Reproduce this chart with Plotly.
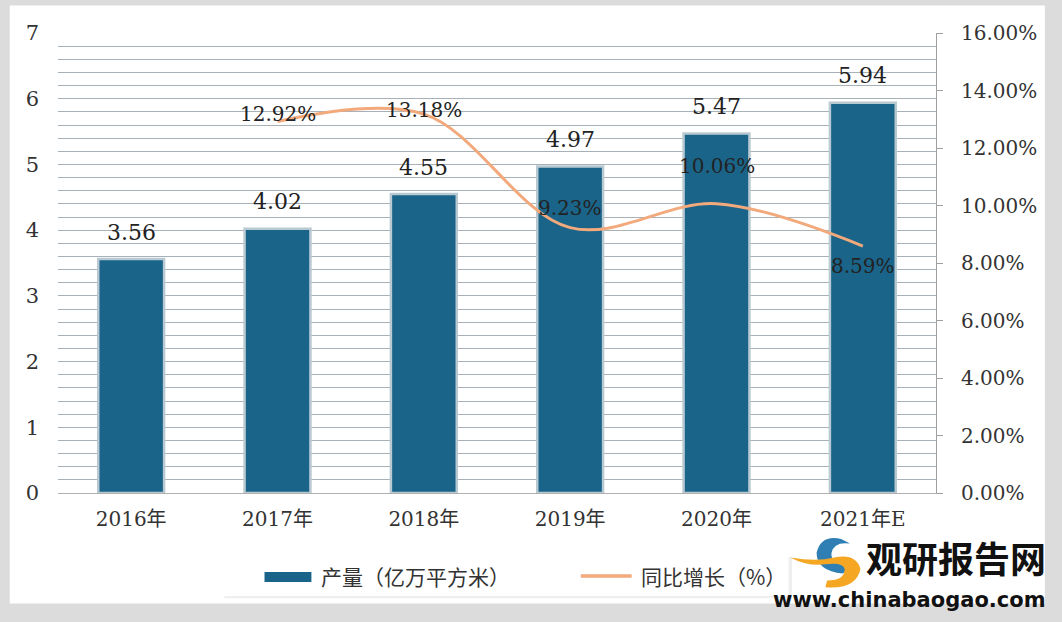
import plotly.graph_objects as go

years = ["2016年", "2017年", "2018年", "2019年", "2020年", "2021年E"]
output = [3.56, 4.02, 4.55, 4.97, 5.47, 5.94]
growth_years = ["2017年", "2018年", "2019年", "2020年", "2021年E"]
growth = [12.92, 13.18, 9.23, 10.06, 8.59]
growth_label_shift = [8, 4, 20, 38, -20]

bar_name = "产量（亿万平方米）"
line_name = "同比增长（%）"

serif = "DejaVu Serif, Liberation Serif, Noto Sans CJK SC, serif"
cjk = "Noto Sans CJK SC, sans-serif"
bar_color = "#1a6489"
line_color = "#f2a97c"

fig = go.Figure()
fig.add_trace(go.Bar(
    x=years, y=output, name=bar_name,
    marker=dict(color=bar_color, line=dict(color="#b9c9d2", width=2.5)),
    width=0.45, yaxis="y", showlegend=False,
))
fig.add_trace(go.Scatter(
    x=growth_years, y=growth, name=line_name, mode="lines",
    line=dict(color=line_color, width=3, shape="spline", smoothing=1.0),
    yaxis="y2", showlegend=False,
))

annotations = []
for x, v in zip(years, output):
    annotations.append(dict(x=x, y=v, xref="x", yref="y", text=f"{v:.2f}",
                            showarrow=False, yshift=27,
                            font=dict(family=serif, size=22, color="#222")))
for x, v, s in zip(growth_years, growth, growth_label_shift):
    annotations.append(dict(x=x, y=v, xref="x", yref="y2", text=f"{v:.2f}%",
                            showarrow=False, yshift=s,
                            font=dict(family=serif, size=20, color="#222")))
# custom legend texts
annotations.append(dict(x=0.2977, y=-0.1804, xref="paper", yref="paper", xanchor="left", yanchor="middle",
                        text=bar_name, showarrow=False, font=dict(family=cjk, size=21, color="#333")))
annotations.append(dict(x=0.6614, y=-0.1804, xref="paper", yref="paper", xanchor="left", yanchor="middle",
                        text=line_name, showarrow=False, font=dict(family=cjk, size=21, color="#333")))
# watermark
annotations.append(dict(x=1.127, y=-0.139, xref="paper", yref="paper", xanchor="right", yanchor="middle",
                        text="<b>观研报告网</b>", showarrow=False,
                        font=dict(family=cjk, size=36, color="#111")))
annotations.append(dict(x=1.127, y=-0.2326, xref="paper", yref="paper", xanchor="right", yanchor="middle",
                        text="<b>www.chinabaogao.com</b>", showarrow=False,
                        font=dict(family="DejaVu Sans, sans-serif", size=21, color="#111")))

dx = 0.034
shapes = [
    # white card
    dict(type="rect", xref="paper", yref="paper", x0=-0.055, x1=1.124, y0=-0.24, y1=1.06,
         fillcolor="white", line=dict(width=0), layer="below"),
    # legend box with soft shadow
    dict(type="rect", xref="paper", yref="paper", x0=0.1895, x1=0.836, y0=-0.229, y1=-0.139,
         fillcolor="#efefef", line=dict(width=0), layer="below"),
    dict(type="rect", xref="paper", yref="paper", x0=0.1875, x1=0.832, y0=-0.224, y1=-0.137,
         fillcolor="white", line=dict(width=0), layer="below"),
    # legend symbols
    dict(type="rect", xref="paper", yref="paper", x0=0.2352, x1=0.2886, y0=-0.1935, y1=-0.1717,
         fillcolor=bar_color, line=dict(width=0)),
    dict(type="line", xref="paper", yref="paper", x0=0.5955, x1=0.6534, y0=-0.1804, y1=-0.1804,
         line=dict(color=line_color, width=3.5)),
    # logo swirls
    dict(type="path", xref="paper", yref="paper",
         path=f"M {0.858+dx},-0.10 Q {0.835+dx},-0.09 {0.83+dx},-0.13 Q {0.83+dx},-0.17 {0.86+dx},-0.175 L {0.868+dx},-0.16 Q {0.845+dx},-0.155 {0.847+dx},-0.13 Q {0.85+dx},-0.105 {0.868+dx},-0.11 Z",
         fillcolor="#2f7fb5", line=dict(width=0)),
    dict(type="path", xref="paper", yref="paper",
         path=f"M {0.80+dx},-0.14 Q {0.83+dx},-0.15 {0.85+dx},-0.14 Q {0.875+dx},-0.13 {0.88+dx},-0.165 Q {0.875+dx},-0.21 {0.84+dx},-0.205 L {0.842+dx},-0.19 Q {0.862+dx},-0.19 {0.862+dx},-0.165 Q {0.86+dx},-0.15 {0.84+dx},-0.155 Q {0.82+dx},-0.16 {0.80+dx},-0.14 Z",
         fillcolor="#f5a623", line=dict(width=0)),
]

fig.update_layout(
    width=1062, height=622,
    margin=dict(l=58, r=126, t=33, b=129),
    paper_bgcolor="#dcdcdc",
    plot_bgcolor="#ebf0f5",
    showlegend=False,
    xaxis=dict(type="category", showgrid=False, ticks="", showline=True, linecolor="#b0b0b0",
               tickfont=dict(family=serif, size=20, color="#333"), ticklabelstandoff=8),
    yaxis=dict(range=[0, 7], dtick=1, showgrid=True, gridcolor="#a8b0b8", gridwidth=1,
               minor=dict(dtick=0.2, showgrid=True, gridcolor="#a8b0b8", gridwidth=1),
               showline=False, zeroline=False, ticks="",
               tickfont=dict(family=serif, size=21, color="#333"), ticklabelstandoff=18),
    yaxis2=dict(range=[0, 16], dtick=2, overlaying="y", side="right", showgrid=False,
                zeroline=False, showline=True, linecolor="#a0a0a0", ticks="outside", ticklen=6,
                tickcolor="#a0a0a0", ticksuffix="%", tickformat=".2f", ticklabelstandoff=14,
                tickfont=dict(family=serif, size=20, color="#333")),
    annotations=annotations,
    shapes=shapes,
)

fig.write_html("out.html")
